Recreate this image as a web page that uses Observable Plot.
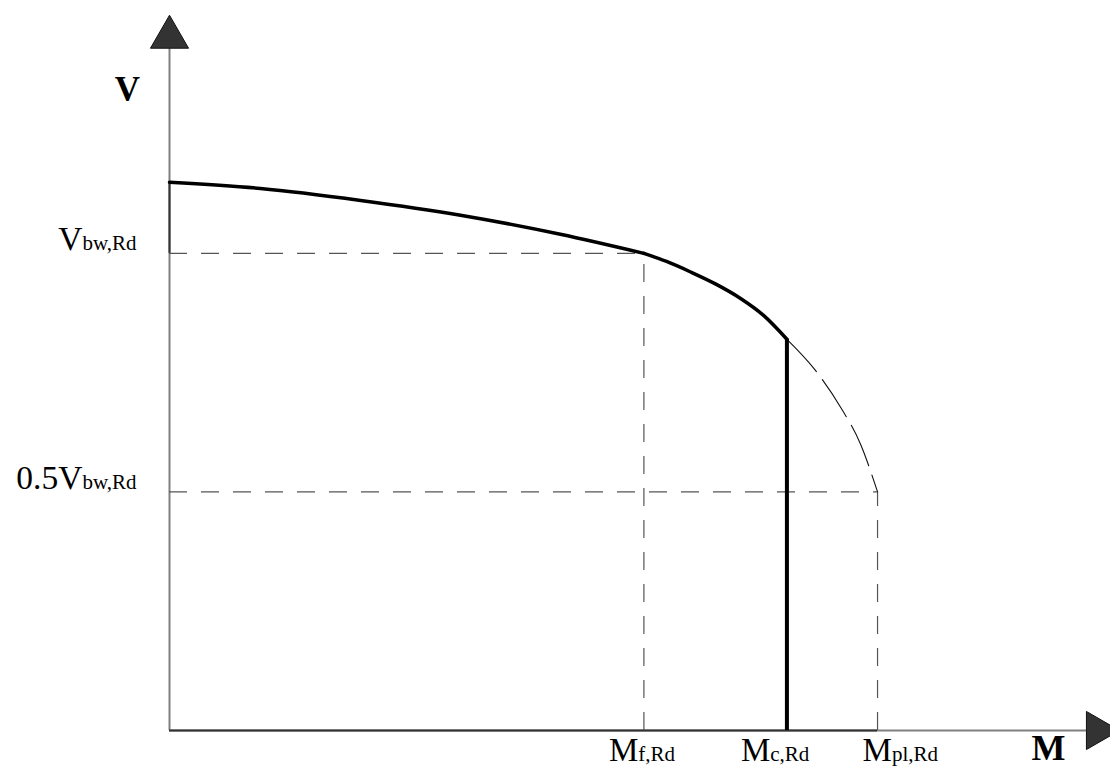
<!DOCTYPE html>
<html><head><meta charset="utf-8">
<script src="https://cdn.jsdelivr.net/npm/d3@7"></script>
<script src="https://cdn.jsdelivr.net/npm/@observablehq/plot@0.6"></script>
<style>html,body{margin:0;padding:0;background:#fff;overflow:hidden} #chart svg{display:block}</style>
</head><body><div id="chart"></div>
<script>
// Bold resistance curve: plateau part (0 .. Mf) and interaction part (Mf .. Mc)
const plateauM = [0, 0.1285, 0.270, 0.411, 0.552, 0.670];
const plateauV = [1.149, 1.136, 1.111, 1.080, 1.040, 1.0];
const interactionM = [0.670, 0.702, 0.736, 0.771, 0.806, 0.839, 0.872];
const interactionV = [1.0, 0.983, 0.961, 0.936, 0.906, 0.870, 0.820];
// Dashed continuation (Mc .. Mpl)
const dashedCurveM = [0.872, 0.910, 0.948, 0.976, 1.0];
const dashedCurveV = [0.820, 0.759, 0.677, 0.600, 0.5];
// Key moments and shears
const mTickValues = [0.670, 0.872, 1.0];          // Mf,Rd  Mc,Rd  Mpl,Rd
const mTickMain = ["M", "M", "M"];
const mTickSub = ["f,Rd", "c,Rd", "pl,Rd"];
const vTickValues = [1.0, 0.5];                   // Vbw,Rd  0.5Vbw,Rd
const vTickMain = ["V", "0.5V"];
const vTickSub = ["bw,Rd", "bw,Rd"];
// guide lines: pairs (M, V) of the dashed rectangles
const guideM = [0.670, 1.0];
const guideV = [1.0, 0.5];
// axis extents
const mAxisEnd = 1.295;
const vAxisEnd = 1.430;
const xAxisTitle = "M";
const yAxisTitle = "V";

const Mf = mTickValues[0], Mc = mTickValues[1], Mpl = mTickValues[2];
const Vc = interactionV[interactionV.length - 1];
const serif = "Liberation Serif, Times New Roman, serif";
const idx = a => d3.range(a.length);
const bottomDx = [-35, -46, -15];

const marks = [
  // axes (gray)
  Plot.ruleX([0], {y1: 0, y2: vAxisEnd, stroke: "#808080", strokeWidth: 2}),
  Plot.ruleY([0], {x1: 0, x2: mAxisEnd, stroke: "#808080", strokeWidth: 2}),
  // darker boundary segments on axes
  Plot.ruleY([0], {x1: 0, x2: Mpl, stroke: "#333", strokeWidth: 2}),
  Plot.ruleX([0], {y1: guideV[0], y2: plateauV[0], stroke: "#333", strokeWidth: 2}),
  // dashed guides
  Plot.ruleY(idx(guideV), {y: i => guideV[i], x1: 0, x2: i => guideM[i], stroke: "#555", strokeWidth: 1.2, strokeDasharray: "18,14"}),
  Plot.ruleX(idx(guideM), {x: i => guideM[i], y1: 0, y2: i => guideV[i], stroke: "#555", strokeWidth: 1.2, strokeDasharray: "18,14"}),
  // dashed curve continuation
  Plot.line(idx(dashedCurveM), {x: i => dashedCurveM[i], y: i => dashedCurveV[i], curve: "monotone-x", stroke: "#111", strokeWidth: 1.1, strokeDasharray: "44,10"}),
  // bold curve
  Plot.line(idx(plateauM), {x: i => plateauM[i], y: i => plateauV[i], curve: "monotone-x", stroke: "#000", strokeWidth: 3.5}),
  Plot.line(idx(interactionM), {x: i => interactionM[i], y: i => interactionV[i], curve: "monotone-x", stroke: "#000", strokeWidth: 3.5}),
  Plot.ruleX([Mc], {y1: 0, y2: Vc, stroke: "#000", strokeWidth: 4}),
  // arrow heads
  Plot.dot([0], {x: 0, y: vAxisEnd, symbol: "triangle", r: 14.15, fill: "#333", stroke: "#111", strokeWidth: 1, dy: -11}),
  Plot.dot([0], {x: mAxisEnd, y: 0, symbol: "triangle", r: 14.15, rotate: 90, fill: "#333", stroke: "#111", strokeWidth: 1, dx: 11}),
  // left labels
  Plot.text(idx(vTickValues), {x: 0, y: i => vTickValues[i], text: i => vTickMain[i] + "|" + vTickSub[i],
    textAnchor: "end", lineAnchor: "bottom", dx: -33, dy: -3, fontFamily: serif, fontSize: 33.5, fill: "#000"}),
  // bottom labels
  ...mTickValues.map((m, i) => Plot.text([i], {x: () => m, y: () => 0, text: () => mTickMain[i] + "|" + mTickSub[i],
    textAnchor: "start", lineAnchor: "bottom", dx: bottomDx[i], dy: 30, fontFamily: serif, fontSize: 33, fill: "#000"})),
  // axis titles
  Plot.text([yAxisTitle], {frameAnchor: "top-left", text: d => d, dx: -42, dy: 100, lineAnchor: "bottom", textAnchor: "middle",
    fontFamily: serif, fontWeight: "bold", fontSize: 35, fill: "#000"}),
  Plot.text([xAxisTitle], {frameAnchor: "bottom-right", text: d => d, dx: -62, dy: 29, lineAnchor: "bottom", textAnchor: "middle",
    fontFamily: serif, fontWeight: "bold", fontSize: 36, fill: "#000"})
];

const chart = Plot.plot({
  width: 1110,
  height: 767,
  marginLeft: 169,
  marginRight: 0,
  marginTop: 0,
  marginBottom: 37,
  x: {domain: [0, 1.329], axis: null},
  y: {domain: [0, 1.530], axis: null},
  marks
});

// render subscripts as smaller tspans
d3.select(chart).selectAll("text").each(function () {
  const t = this.textContent;
  if (t.includes("|")) {
    const [a, b] = t.split("|");
    this.textContent = "";
    d3.select(this).append("tspan").text(a);
    d3.select(this).append("tspan").attr("font-size", 21).text(b);
  }
});

document.getElementById("chart").appendChild(chart);
</script>
</body></html>
